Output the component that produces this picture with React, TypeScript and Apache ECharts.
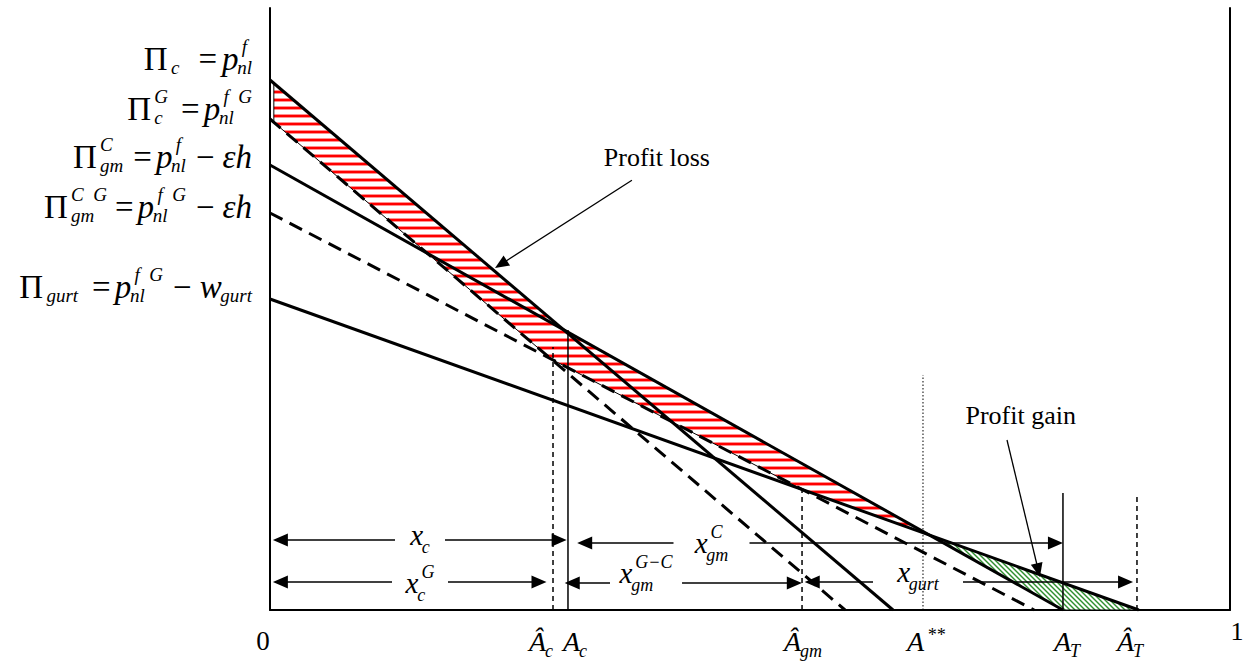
import React, { useEffect, useRef } from "react";
import * as echarts from "echarts";

// ---------------- data (unit square: x 0..1, y 0..1) ----------------
// Profit lines: value at x = 0 and the x where each line reaches zero
const profitLineNames = ["Π_c", "Π_c^G", "Π_gm^C", "Π_gm^CG", "Π_gurt"];
const profitIntercepts = [0.8804, 0.8156, 0.7392, 0.6595, 0.5166];
const profitZeros = [0.649, 0.599, 0.826, 0.796, 0.905];

// thresholds on the horizontal axis (tick labels) and height of their guide lines
const thresholdNames = ["Â_c", "A_c", "Â_gm", "A**", "A_T", "Â_T"];
const thresholdX = [0.2948, 0.3104, 0.5542, 0.6802, 0.826, 0.9031];
const thresholdTop = [0.4369, 0.4651, 0.2076, 0.3904, 0.1944, 0.1944];

// interval arrows
const spanNames = ["x_c", "x_c^G", "x_gm^G−C", "x_gm^C", "x_gurt"];
const spanFrom = [0.003, 0.003, 0.307, 0.32, 0.557];
const spanTo = [0.309, 0.288, 0.554, 0.826, 0.899];
const spanLevel = [0.1163, 0.0465, 0.0449, 0.1113, 0.0465];

// callouts
const calloutTexts = ["Profit loss", "Profit gain"];
const calloutTail = [
  [0.377, 0.714],
  [0.7677, 0.2824],
];
const calloutTip = [
  [0.2344, 0.568],
  [0.802, 0.0548],
];

// axis end labels
const axisEndLabels = ["0", "1"];

// ---------------- layout / style (not data) ----------------
const LINE_DASHED = [false, true, false, true, false];
const THRESH_STYLE = ["dashed", "solid", "dashed", "dotted", "solid", "dashed"];
const THRESH_LABEL_DX = [-12, 7, 1, 3, 4, -7];
const FORMULA_BASE_DY = [-10, 1, 3, 5, -1];
const SPAN_GAP_CENTER = [0.15625, 0.15625, 0.3917, 0.4599, 0.675];
const SPAN_GAP_HALF = [25, 28, 36, 38, 45];
const SPAN_LABEL_DY = [5, 11, 0, 10, 0];
const CALLOUT_TEXT_AT = [
  [0.403, 0.7375],
  [0.782, 0.309],
];

type Tok = {
  t: string;
  it?: boolean;
  sub?: string;
  sup?: string;
  post?: number;
  supDy?: number;
};

const formulas: Tok[][] = [
  [{ t: "Π", sub: "c", post: 19 }, { t: "=", post: 5 }, { t: "p", it: true, sub: "nl", sup: "f" }],
  [{ t: "Π", sub: "c", sup: "G", post: 13 }, { t: "=", post: 4 }, { t: "p", it: true, sub: "nl", sup: "f  G" }],
  [
    { t: "Π", sub: "gm", sup: "C", post: 10 },
    { t: "=", post: 4 },
    { t: "p", it: true, sub: "nl", sup: "f", post: 10 },
    { t: "−", post: 8 },
    { t: "εh", it: true },
  ],
  [
    { t: "Π", sub: "gm", sup: "C  G", post: 8 },
    { t: "=", post: 4 },
    { t: "p", it: true, sub: "nl", sup: "f  G", post: 10 },
    { t: "−", post: 8 },
    { t: "εh", it: true },
  ],
  [
    { t: "Π", sub: "gurt", post: 14 },
    { t: "=", post: 4 },
    { t: "p", it: true, sub: "nl", sup: "f  G", post: 10 },
    { t: "−", post: 8 },
    { t: "w", it: true, sub: "gurt" },
  ],
];

const spanToks: Tok[][] = [
  [{ t: "x", it: true, sub: "c" }],
  [{ t: "x", it: true, sub: "c", sup: "G" }],
  [{ t: "x", it: true, sub: "gm", sup: "G−C" }],
  [{ t: "x", it: true, sub: "gm", sup: "C" }],
  [{ t: "x", it: true, sub: "gurt" }],
];

const threshToks: Tok[][] = [
  [{ t: "Â", it: true, sub: "c" }],
  [{ t: "A", it: true, sub: "c" }],
  [{ t: "Â", it: true, sub: "gm" }],
  [{ t: "A", it: true, sup: "**", supDy: -10 }],
  [{ t: "A", it: true, sub: "T" }],
  [{ t: "Â", it: true, sub: "T" }],
];

const FAMILY = "Liberation Serif";
const cssFont = (size: number, italic: boolean) =>
  `${italic ? "italic " : ""}${size}px "Liberation Serif", serif`;

let measureCtx: CanvasRenderingContext2D | null = null;
function measure(text: string, size: number, italic: boolean): number {
  if (!measureCtx) measureCtx = document.createElement("canvas").getContext("2d");
  measureCtx!.font = cssFont(size, italic);
  return measureCtx!.measureText(text).width;
}

type Glyph = { text: string; x: number; dy: number; size: number; italic: boolean };

function layoutMath(toks: Tok[], size: number, ss: number, subDy: number, supDy: number) {
  const glyphs: Glyph[] = [];
  let x = 0;
  for (const tk of toks) {
    const w = measure(tk.t, size, !!tk.it);
    glyphs.push({ text: tk.t, x, dy: 0, size, italic: !!tk.it });
    x += w;
    let sw = 0;
    if (tk.sub) {
      const sx = tk.it ? -size * 0.04 : size * 0.1;
      glyphs.push({ text: tk.sub, x: x + sx, dy: subDy, size: ss, italic: true });
      sw = Math.max(sw, sx + measure(tk.sub, ss, true));
    }
    if (tk.sup) {
      const sx = size * 0.1;
      glyphs.push({ text: tk.sup, x: x + sx, dy: tk.supDy ?? supDy, size: ss, italic: true });
      sw = Math.max(sw, sx + measure(tk.sup, ss, true));
    }
    x += sw + (tk.post || 0);
  }
  return { width: x, glyphs };
}

function textEl(text: string, x: number, baseline: number, size: number, italic: boolean) {
  return {
    type: "text",
    silent: true,
    style: {
      text,
      x,
      y: baseline - 0.3375 * size,
      fontFamily: FAMILY,
      fontSize: size,
      fontStyle: italic ? "italic" : "normal",
      fontWeight: "normal",
      fill: "#000",
      align: "left",
      verticalAlign: "middle",
    },
  };
}

function arrowHead(tip: number[], from: number[], L: number, W: number) {
  const dx = tip[0] - from[0];
  const dy = tip[1] - from[1];
  const len = Math.hypot(dx, dy) || 1;
  const ux = dx / len;
  const uy = dy / len;
  const bx = tip[0] - ux * L;
  const by = tip[1] - uy * L;
  return {
    type: "polygon",
    silent: true,
    shape: {
      points: [
        [tip[0], tip[1]],
        [bx - uy * W, by + ux * W],
        [bx + uy * W, by - ux * W],
      ],
    },
    style: { fill: "#000" },
  };
}

function lineEl(a: number[], b: number[], w: number) {
  return {
    type: "line",
    silent: true,
    shape: { x1: a[0], y1: a[1], x2: b[0], y2: b[1] },
    style: { stroke: "#000", lineWidth: w },
  };
}

function makePattern(kind: "red" | "green") {
  const c = document.createElement("canvas");
  if (kind === "red") {
    c.width = 8;
    c.height = 8;
    const g = c.getContext("2d")!;
    g.fillStyle = "#ffffff";
    g.fillRect(0, 0, 8, 8);
    g.fillStyle = "#ffb4b4";
    g.fillRect(0, 2, 8, 4);
    g.fillStyle = "#ff0000";
    g.fillRect(0, 2.8, 8, 2.4);
    return { image: c, repeat: "repeat", imageWidth: 8, imageHeight: 8 };
  }
  c.width = 5;
  c.height = 5;
  const g = c.getContext("2d")!;
  g.fillStyle = "#ffffff";
  g.fillRect(0, 0, 5, 5);
  g.strokeStyle = "#2f8f2f";
  g.lineWidth = 1.4;
  for (let k = -1; k <= 1; k++) {
    g.beginPath();
    g.moveTo(-1, -1 + 5 * k);
    g.lineTo(6, 6 + 5 * k);
    g.stroke();
  }
  return { image: c, repeat: "repeat", imageWidth: 5, imageHeight: 5 };
}

export default function App() {
  const ref = useRef<HTMLDivElement>(null);

  useEffect(() => {
    const el = ref.current!;
    const chart = echarts.init(el, null, { renderer: "svg" });

    const lineAt = (i: number, x: number) => profitIntercepts[i] * (1 - x / profitZeros[i]);
    const cross = (i: number, j: number) => {
      const a = profitIntercepts[i];
      const b = profitIntercepts[j];
      return (a - b) / (a / profitZeros[i] - b / profitZeros[j]);
    };
    const env = (ids: number[], x: number) => Math.max(...ids.map((i) => lineAt(i, x)));

    const x0 = 0.004;
    const xe = cross(2, 4);
    const breaks = (ids: number[]) => {
      const out: number[] = [];
      for (let a = 0; a < ids.length; a++)
        for (let b = a + 1; b < ids.length; b++) {
          const c = cross(ids[a], ids[b]);
          if (c > x0 && c < xe) out.push(c);
        }
      return out.sort((p, q) => p - q);
    };
    const upIds = [0, 2];
    const loIds = [1, 3, 4];
    const upXs = [x0, ...breaks(upIds), xe];
    const loXs = [x0, ...breaks(loIds), xe].reverse();
    const lossPoly = [
      ...upXs.map((x) => [x, env(upIds, x)]),
      ...loXs.map((x) => [x, env(loIds, x)]),
    ];
    const gainPoly = [
      [xe, lineAt(4, xe)],
      [profitZeros[4], 0],
      [profitZeros[2], 0],
    ];

    const redFill = makePattern("red");
    const greenFill = makePattern("green");

    const polySeries = (pts: number[][], fill: any) => ({
      type: "custom",
      coordinateSystem: "cartesian2d",
      silent: true,
      clip: false,
      z: 1,
      data: [[0, 0]],
      renderItem: (_p: any, api: any) => ({
        type: "polygon",
        shape: { points: pts.map((p) => api.coord(p)) },
        style: { fill, stroke: "#000", lineWidth: 1 },
      }),
    });

    const profitSeries = profitIntercepts.map((y0, i) => ({
      name: profitLineNames[i],
      type: "line",
      silent: true,
      z: 3,
      symbol: "none",
      data: [
        [0, y0],
        [profitZeros[i], 0],
      ],
      lineStyle: {
        color: "#000",
        width: 3,
        type: LINE_DASHED[i] ? [14, 8] : "solid",
        cap: "butt",
      },
    }));

    const threshSeries = thresholdX.map((x, i) => ({
      name: thresholdNames[i],
      type: "line",
      silent: true,
      z: 2,
      symbol: "none",
      data: [
        [x, 0],
        [x, thresholdTop[i]],
      ],
      lineStyle: {
        color: "#000",
        width: THRESH_STYLE[i] === "dotted" ? 1 : 1.5,
        type: THRESH_STYLE[i] === "dashed" ? [5, 4] : THRESH_STYLE[i] === "dotted" ? [1.5, 2] : "solid",
      },
    }));

    const annotations = {
      type: "custom",
      coordinateSystem: "cartesian2d",
      silent: true,
      clip: false,
      z: 5,
      data: [[0, 0]],
      renderItem: (_p: any, api: any) => {
        const P = (x: number, y: number) => api.coord([x, y]) as number[];
        const children: any[] = [];
        const put = (lay: { width: number; glyphs: Glyph[] }, left: number, base: number) => {
          lay.glyphs.forEach((g) => children.push(textEl(g.text, left + g.x, base + g.dy, g.size, g.italic)));
        };

        // left formulas (right-aligned next to the vertical axis)
        formulas.forEach((toks, i) => {
          const lay = layoutMath(toks, 33, 19, 4, -17);
          const a = P(0, profitIntercepts[i]);
          put(lay, a[0] - 18 - lay.width, a[1] + FORMULA_BASE_DY[i]);
        });

        // axis labels 0 and 1
        const o = P(0, 0);
        const one = P(1, 0);
        children.push(textEl(axisEndLabels[0], o[0] - 7 - measure("0", 27, false) / 2, o[1] + 40, 27, false));
        children.push(textEl(axisEndLabels[1], one[0] + 7 - measure("1", 26, false) / 2, o[1] + 30, 26, false));

        // threshold labels
        thresholdX.forEach((x, i) => {
          const lay = layoutMath(threshToks[i], 28, 18, 6, -14);
          const p = P(x, 0);
          put(lay, p[0] + THRESH_LABEL_DX[i] - lay.width / 2, p[1] + 41);
        });

        // interval arrows
        spanFrom.forEach((xf, i) => {
          const a = P(xf, spanLevel[i]);
          const b = P(spanTo[i], spanLevel[i]);
          const gc = P(SPAN_GAP_CENTER[i], spanLevel[i])[0];
          const gl = gc - SPAN_GAP_HALF[i];
          const gr = gc + SPAN_GAP_HALF[i];
          children.push(lineEl([a[0] + 6, a[1]], [gl, a[1]], 1.5));
          children.push(lineEl([gr, a[1]], [b[0] - 6, b[1]], 1.5));
          children.push(arrowHead(a, [a[0] + 20, a[1]], 15, 6.5));
          children.push(arrowHead(b, [b[0] - 20, b[1]], 15, 6.5));
          const lay = layoutMath(spanToks[i], 29, 18, 8, -15);
          put(lay, gc - lay.width / 2, a[1] + SPAN_LABEL_DY[i]);
        });

        // callouts
        calloutTexts.forEach((txt, i) => {
          const tail = P(calloutTail[i][0], calloutTail[i][1]);
          const tip = P(calloutTip[i][0], calloutTip[i][1]);
          const dx = tip[0] - tail[0];
          const dy = tip[1] - tail[1];
          const len = Math.hypot(dx, dy);
          children.push(lineEl(tail, [tip[0] - (dx / len) * 8, tip[1] - (dy / len) * 8], 1.3));
          children.push(arrowHead(tip, tail, 14, 6));
          const at = P(CALLOUT_TEXT_AT[i][0], CALLOUT_TEXT_AT[i][1]);
          children.push(textEl(txt, at[0] - measure(txt, 26, false) / 2, at[1], 26, false));
        });

        return { type: "group", children };
      },
    };

    const axisCommon = {
      type: "value",
      min: 0,
      max: 1,
      axisTick: { show: false },
      axisLabel: { show: false },
      splitLine: { show: false },
    };

    chart.setOption({
      animation: false,
      backgroundColor: "#ffffff",
      grid: { left: 270, right: 13, top: 8, bottom: 52 },
      xAxis: {
        ...axisCommon,
        axisLine: { show: true, onZero: false, lineStyle: { color: "#000", width: 2 } },
      },
      yAxis: [
        {
          ...axisCommon,
          position: "left",
          axisLine: { show: true, onZero: false, lineStyle: { color: "#000", width: 2 } },
        },
        {
          ...axisCommon,
          position: "right",
          axisLine: { show: true, onZero: false, lineStyle: { color: "#000", width: 2 } },
        },
      ],
      series: [polySeries(lossPoly, redFill), polySeries(gainPoly, greenFill), ...threshSeries, ...profitSeries, annotations],
    });

    return () => {
      chart.dispose();
    };
  }, []);

  return (
    <div
      ref={ref}
      style={{ position: "fixed", left: 0, top: 0, width: 1243, height: 662, background: "#fff" }}
    />
  );
}
